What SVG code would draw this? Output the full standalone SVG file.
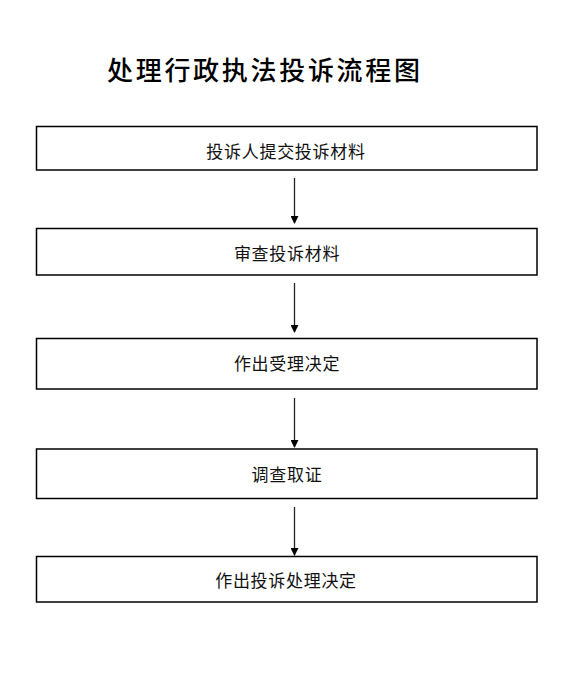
<svg xmlns="http://www.w3.org/2000/svg" width="584" height="687" viewBox="0 0 584 687">
<style>
.box{fill:#fff;stroke:#000;stroke-width:1.5}
.lbl{font-family:"Noto Sans CJK SC",sans-serif;font-size:17px;letter-spacing:0.7px;fill:#111;text-anchor:middle}
.title{font-family:"Noto Sans CJK SC",serif;font-size:26px;font-weight:500;fill:#000}
.arr{stroke:#222;stroke-width:1.3;fill:none;marker-end:url(#ah)}
</style>
<defs>
<marker id="ah" markerWidth="8" markerHeight="8" refX="7" refY="4" orient="auto" markerUnits="userSpaceOnUse">
<path d="M0,0 L8,4 L0,8 Z" fill="#000"/>
</marker>
</defs>
<rect width="584" height="687" fill="#fff"/>
<text class="title" x="107" y="80" textLength="313" lengthAdjust="spacing">处理行政执法投诉流程图</text>
<g id="connectors">
<line class="arr" x1="294.5" y1="178" x2="294.5" y2="223"/>
<line class="arr" x1="294.5" y1="283" x2="294.5" y2="332"/>
<line class="arr" x1="294.5" y1="398" x2="294.5" y2="447"/>
<line class="arr" x1="294.5" y1="507" x2="294.5" y2="555"/>
</g>
<g id="n1"><rect class="box" x="36.5" y="126.5" width="500.5" height="43.5"/><text class="lbl" x="286" y="158">投诉人提交投诉材料</text></g>
<g id="n2"><rect class="box" x="36.5" y="228.5" width="500.5" height="46.5"/><text class="lbl" x="287" y="260">审查投诉材料</text></g>
<g id="n3"><rect class="box" x="36.5" y="338.5" width="500.5" height="50.5"/><text class="lbl" x="287" y="370">作出受理决定</text></g>
<g id="n4"><rect class="box" x="36.5" y="449" width="500.5" height="49.5"/><text class="lbl" x="287" y="481">调查取证</text></g>
<g id="n5"><rect class="box" x="36.5" y="556.5" width="500.5" height="45.5"/><text class="lbl" x="286" y="587">作出投诉处理决定</text></g>
</svg>
